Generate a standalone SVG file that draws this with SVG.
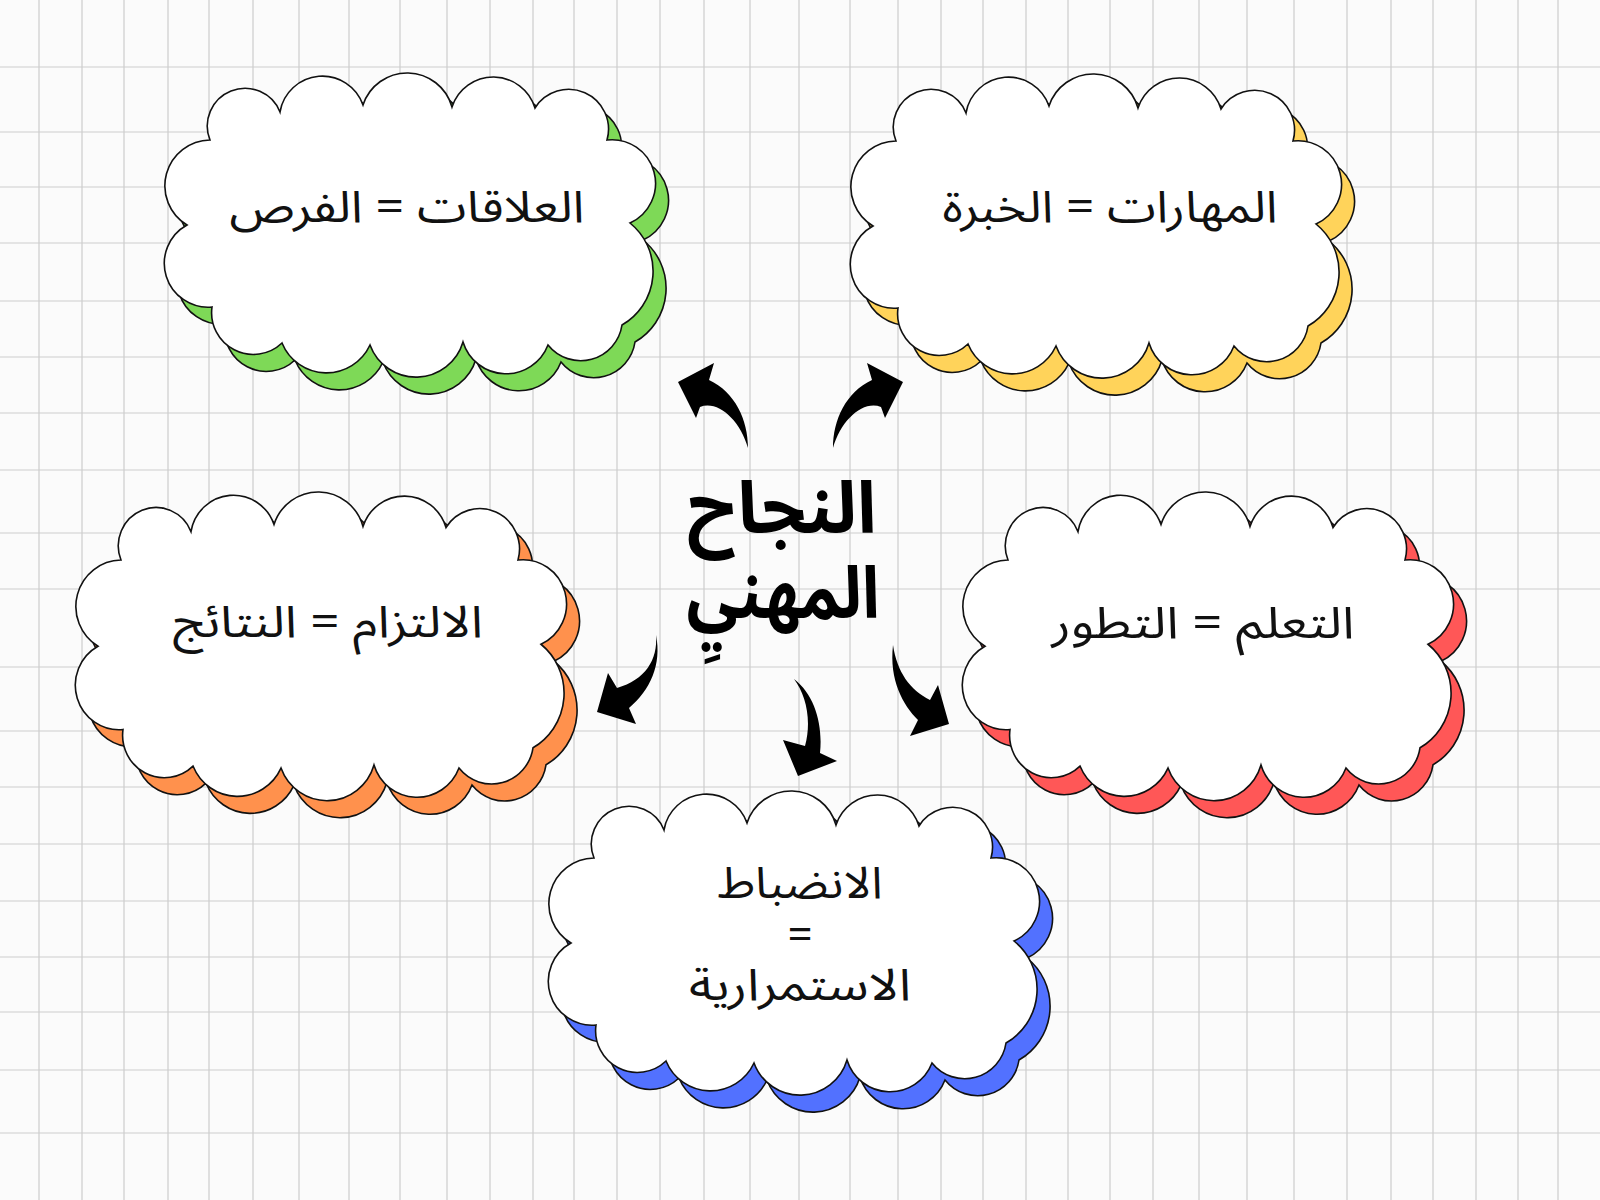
<svg xmlns="http://www.w3.org/2000/svg" width="1600" height="1200" viewBox="0 0 1600 1200">
<style>
.grid line{stroke:#cdcdcd;stroke-width:1.2}
.face{fill:#ffffff;stroke:#111;stroke-width:1.6}
.sh{stroke:#111;stroke-width:1.6}
.lbl{font-family:'Noto Sans Arabic','DejaVu Sans',sans-serif;font-size:44px;fill:#111;text-anchor:middle}
.title{font-family:'Noto Sans Arabic','DejaVu Sans',sans-serif;font-size:72px;font-weight:bold;fill:#000;text-anchor:middle}
.arrow{fill:#000}
</style>
<defs>
<path id="cloud" d="M45,67 A37,37 0 0 1 115,39 A43,43 0 0 1 198,32 A46.5,46.5 0 0 1 287,34 A43.5,43.5 0 0 1 370,35 A39.8,39.8 0 0 1 442,67 A43.6,43.6 0 0 1 465,150 A62,62 0 0 1 457,252 A41.8,41.8 0 0 1 383,272 A45,45 0 0 1 298,269 A49,49 0 0 1 205,272 A48,48 0 0 1 117,270 A41.7,41.7 0 0 1 47,234 A43.8,43.8 0 0 1 22,152 A45.8,45.8 0 0 1 45,67 Z"/>
</defs>
<rect width="1600" height="1200" fill="#fbfbfb"/>
<g class="grid">
<line x1="39" y1="0" x2="39" y2="1200"/><line x1="82" y1="0" x2="82" y2="1200"/><line x1="124" y1="0" x2="124" y2="1200"/><line x1="168" y1="0" x2="168" y2="1200"/><line x1="209" y1="0" x2="209" y2="1200"/><line x1="253" y1="0" x2="253" y2="1200"/><line x1="299" y1="0" x2="299" y2="1200"/><line x1="349" y1="0" x2="349" y2="1200"/><line x1="400" y1="0" x2="400" y2="1200"/><line x1="447" y1="0" x2="447" y2="1200"/><line x1="490" y1="0" x2="490" y2="1200"/><line x1="533" y1="0" x2="533" y2="1200"/><line x1="574" y1="0" x2="574" y2="1200"/><line x1="617" y1="0" x2="617" y2="1200"/><line x1="660" y1="0" x2="660" y2="1200"/><line x1="704" y1="0" x2="704" y2="1200"/><line x1="750" y1="0" x2="750" y2="1200"/><line x1="799" y1="0" x2="799" y2="1200"/><line x1="850" y1="0" x2="850" y2="1200"/><line x1="898" y1="0" x2="898" y2="1200"/><line x1="941" y1="0" x2="941" y2="1200"/><line x1="983" y1="0" x2="983" y2="1200"/><line x1="1026" y1="0" x2="1026" y2="1200"/><line x1="1068" y1="0" x2="1068" y2="1200"/><line x1="1110" y1="0" x2="1110" y2="1200"/><line x1="1153" y1="0" x2="1153" y2="1200"/><line x1="1199" y1="0" x2="1199" y2="1200"/><line x1="1247" y1="0" x2="1247" y2="1200"/><line x1="1294" y1="0" x2="1294" y2="1200"/><line x1="1347" y1="0" x2="1347" y2="1200"/><line x1="1391" y1="0" x2="1391" y2="1200"/><line x1="1433" y1="0" x2="1433" y2="1200"/><line x1="1476" y1="0" x2="1476" y2="1200"/><line x1="1518" y1="0" x2="1518" y2="1200"/><line x1="1558" y1="0" x2="1558" y2="1200"/>
<line x1="0" y1="67" x2="1600" y2="67"/><line x1="0" y1="132" x2="1600" y2="132"/><line x1="0" y1="187" x2="1600" y2="187"/><line x1="0" y1="243" x2="1600" y2="243"/><line x1="0" y1="301" x2="1600" y2="301"/><line x1="0" y1="357" x2="1600" y2="357"/><line x1="0" y1="413" x2="1600" y2="413"/><line x1="0" y1="470" x2="1600" y2="470"/><line x1="0" y1="533" x2="1600" y2="533"/><line x1="0" y1="589" x2="1600" y2="589"/><line x1="0" y1="667" x2="1600" y2="667"/><line x1="0" y1="731" x2="1600" y2="731"/><line x1="0" y1="787" x2="1600" y2="787"/><line x1="0" y1="844" x2="1600" y2="844"/><line x1="0" y1="901" x2="1600" y2="901"/><line x1="0" y1="957" x2="1600" y2="957"/><line x1="0" y1="1012" x2="1600" y2="1012"/><line x1="0" y1="1070" x2="1600" y2="1070"/><line x1="0" y1="1133" x2="1600" y2="1133"/>
</g>
<g id="connectors">
<path class="arrow" d="M748,448 C748,420 735,392 709,380 L714,363 L678,382 L696,418 L700,407 C718,400 740,420 748,448 Z"/>
<path class="arrow" d="M833,448 C833,420 846,392 872,380 L867,363 L903,382 L885,418 L881,407 C863,400 841,420 833,448 Z"/>
<path class="arrow" d="M656,635 C658,660 645,680 617,688 L608,673 L597,712 L636,724 L629,708 C650,690 662,665 656,635 Z"/>
<path class="arrow" d="M794,679 C806,695 812,720 805,746 L783,740 L798,776 L837,761 L820,753 C823,725 815,695 794,679 Z"/>
<path class="arrow" d="M893,645 C897,672 910,690 930,700 L938,685 L949,724 L910,736 L918,720 C903,705 889,680 893,645 Z"/>
</g>
<g id="node-relations">
<use href="#cloud" class="sh" fill="#7ed957" transform="translate(178,90)"/>
<use href="#cloud" class="face" transform="translate(165,73)"/>
<text class="lbl" x="407" y="222" textLength="355" lengthAdjust="spacingAndGlyphs">العلاقات = الفرص</text>
</g>
<g id="node-skills">
<use href="#cloud" class="sh" fill="#ffd35a" transform="translate(864,91)"/>
<use href="#cloud" class="face" transform="translate(851,74)"/>
<text class="lbl" x="1110" y="222" textLength="335" lengthAdjust="spacingAndGlyphs">المهارات = الخبرة</text>
</g>
<g id="node-commitment">
<use href="#cloud" class="sh" fill="#ff914d" transform="translate(89,509) scale(1,1.015)"/>
<use href="#cloud" class="face" transform="translate(76,492) scale(1,1.015)"/>
<text class="lbl" x="328" y="637" textLength="310" lengthAdjust="spacingAndGlyphs">الالتزام = النتائج</text>
</g>
<g id="node-learning">
<use href="#cloud" class="sh" fill="#ff5757" transform="translate(976,509) scale(1,1.015)"/>
<use href="#cloud" class="face" transform="translate(963,492) scale(1,1.015)"/>
<text class="lbl" x="1203" y="638" textLength="303" lengthAdjust="spacingAndGlyphs">التعلم = التطور</text>
</g>
<g id="node-discipline">
<use href="#cloud" class="sh" fill="#5271ff" transform="translate(562,808)"/>
<use href="#cloud" class="face" transform="translate(549,791)"/>
<text class="lbl" x="800" y="898" textLength="165" lengthAdjust="spacingAndGlyphs">الانضباط</text>
<text class="lbl" x="800" y="950">=</text>
<text class="lbl" x="800" y="1000" textLength="222" lengthAdjust="spacingAndGlyphs">الاستمرارية</text>
</g>
<g id="node-center">
<text class="title" x="782" y="533" textLength="189" lengthAdjust="spacingAndGlyphs">النجاح</text>
<text class="title" x="783" y="618" textLength="193" lengthAdjust="spacingAndGlyphs">المهنيِ</text>
</g>
</svg>
